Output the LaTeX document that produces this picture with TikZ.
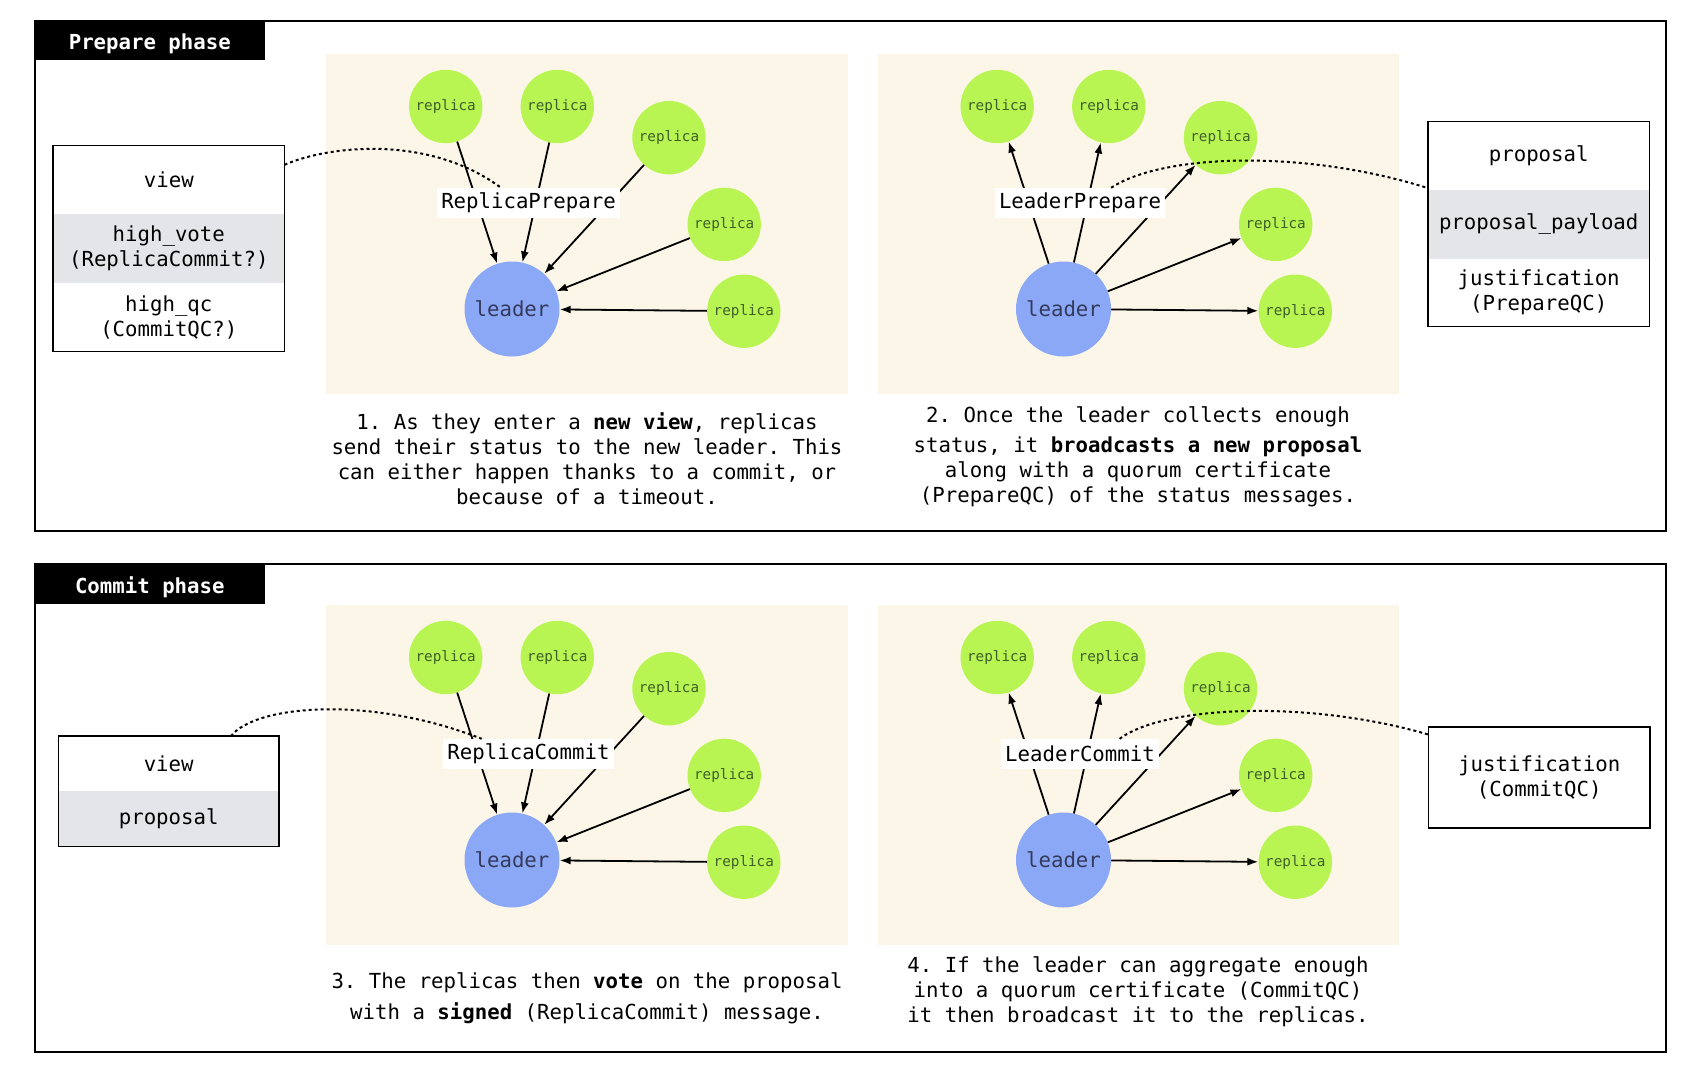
\documentclass[tikz,border=0pt]{standalone}
\usepackage{fontspec}
\setmainfont{DejaVu Sans Mono}
\frenchspacing
\usetikzlibrary{arrows.meta}
\definecolor{replicafill}{RGB}{184,245,82}
\definecolor{replicatext}{RGB}{62,96,40}
\definecolor{leaderfill}{RGB}{139,168,247}
\definecolor{leadertext}{RGB}{52,58,92}
\definecolor{panelbg}{RGB}{252,246,233}
\definecolor{rowgray}{RGB}{228,229,232}
\newcommand\bigtxt{\fontsize{20.7}{25}\selectfont}
\tikzset{
  replica/.style={circle, fill=replicafill, minimum size=73.4pt, inner sep=0pt,
    text=replicatext, font=\fontsize{14.3}{16}\selectfont},
  leader/.style={circle, fill=leaderfill, minimum size=95pt, inner sep=0pt,
    text=leadertext, font=\bigtxt},
  msg/.style={fill=white, inner xsep=4pt, inner ysep=0pt, minimum height=30pt, font=\bigtxt},
  arrin/.style={{Latex[length=11pt,width=8pt]}-, line width=1.8pt},
  arrout/.style={-{Latex[length=11pt,width=8pt]}, line width=1.8pt},
  link/.style={dash pattern=on 3pt off 3pt, line width=2pt},
  frame/.style={draw, line width=2pt},
  tab/.style={fill=black, text=white, font=\bfseries\bigtxt, inner sep=0pt,
    minimum width=229.8pt, minimum height=39pt, anchor=north west},
  row/.style={minimum width=#1, minimum height=68.3pt, inner sep=0pt,
    anchor=north west, align=center, font=\bigtxt},
  grayrow/.style={row=#1, fill=rowgray},
  boxline/.style={draw, line width=1.5pt},
  caption/.style={align=center, font=\bigtxt, inner sep=0pt}
}
\newcommand\PhasePanel[5]{%
  \begin{scope}[shift={(#2,#3)}]
    \fill[panelbg] (326.3,54.2) rectangle (847.8,393.6);
    \node[replica] (#1r1) at (445.7,106.5) {replica};
    \node[replica] (#1r2) at (557.3,106.5) {replica};
    \node[replica] (#1r3) at (669,137.7) {replica};
    \node[replica] (#1r4) at (724.2,224.4) {replica};
    \node[replica] (#1r5) at (743.8,311.2) {replica};
    \node[leader] (#1l) at (512,309) {leader};
    \foreach \k in {1,...,5} \draw[#4] (#1l) -- (#1r\k);
    \node[msg] (#1m) at (528.5,203) {#5};
  \end{scope}}
\begin{document}
\begin{tikzpicture}[x=1pt,y=-1pt]
\useasboundingbox (0,0) rectangle (1700,1078);
\fill[white] (0,0) rectangle (1700,1078);
% frames
\draw[frame] (34.7,20.6) rectangle (1666.4,531.3);
\draw[frame] (34.7,563.8) rectangle (1666.4,1051.7);
\node[tab] (tabp) at (34.7,20.6) {\raisebox{-3pt}[\height][\depth]{Prepare phase}};
\node[tab, minimum height=40pt] (tabc) at (34.7,563.8) {\raisebox{-3pt}[\height][\depth]{Commit phase}};
% panels
\PhasePanel{pa}{0}{0}{arrin}{ReplicaPrepare}
\PhasePanel{pb}{551.5}{0}{arrout}{LeaderPrepare}
\PhasePanel{pc}{0}{551}{arrin}{ReplicaCommit}
\PhasePanel{pd}{551.5}{551}{arrout}{LeaderCommit}
% captions
\node[caption] (cap1) at (587,459) {1. As they enter a \textbf{new view}, replicas\\send their status to the new leader. This\\can either happen thanks to a commit, or\\because of a timeout.};
\node[caption] (cap2) at (1138,456.4) {2. Once the leader collects enough\\[5pt]status, it \textbf{broadcasts a new proposal}\\along with a quorum certificate\\(PrepareQC) of the status messages.};
\node[caption] (cap3) at (587,997.9) {3. The replicas then \textbf{vote} on the proposal\\[6pt]with a \textbf{signed} (ReplicaCommit) message.};
\node[caption] (cap4) at (1138,992) {4. If the leader can aggregate enough\\into a quorum certificate (CommitQC)\\it then broadcast it to the replicas.};
% prepare left box
\node[row=231pt] (pv) at (53.1,145.3) {view};
\node[grayrow=231pt] (phv) at (pv.south west) {high\_vote\\(ReplicaCommit?)};
\node[row=231pt] (phq) at (phv.south west) {high\_qc\\(CommitQC?)};
\draw[boxline] (pv.north west) rectangle (phq.south east);
% prepare right box
\node[row=221.2pt] (pp) at (1427.9,121.4) {proposal};
\node[grayrow=221.2pt] (ppp) at (pp.south west) {proposal\_payload};
\node[row=221.2pt, minimum height=67.3pt] (pj) at (ppp.south west) {justification\\(PrepareQC)};
\draw[boxline] (pp.north west) rectangle (pj.south east);
% commit left box
\node[row=220pt, minimum height=54.2pt] (cv) at (58.5,736.2) {view};
\node[grayrow=220pt, minimum height=55.3pt] (cp) at (cv.south west) {proposal};
\draw[boxline] (cv.north west) rectangle (cp.south east);
% commit right box
\node[row=221.2pt, minimum height=100.8pt, draw, line width=1.5pt] (cj) at (1427.9,726.4) {justification\\(CommitQC)};
% dotted links
\draw[link] ([yshift=-19.5pt]pv.north east) .. controls (330,145) and (430,135) .. (pam.151);
\draw[link] (pbm.26) .. controls (1160,155) and (1300,148) .. ([yshift=2pt]pp.south west);
\draw[link] ([xshift=-48pt]cv.north east) .. controls (255,705) and (370,695) .. (pcm.162);
\draw[link] (pdm.21) .. controls (1165,705) and (1310,700) .. ([yshift=-8pt]cj.north west);
\end{tikzpicture}
\end{document}
